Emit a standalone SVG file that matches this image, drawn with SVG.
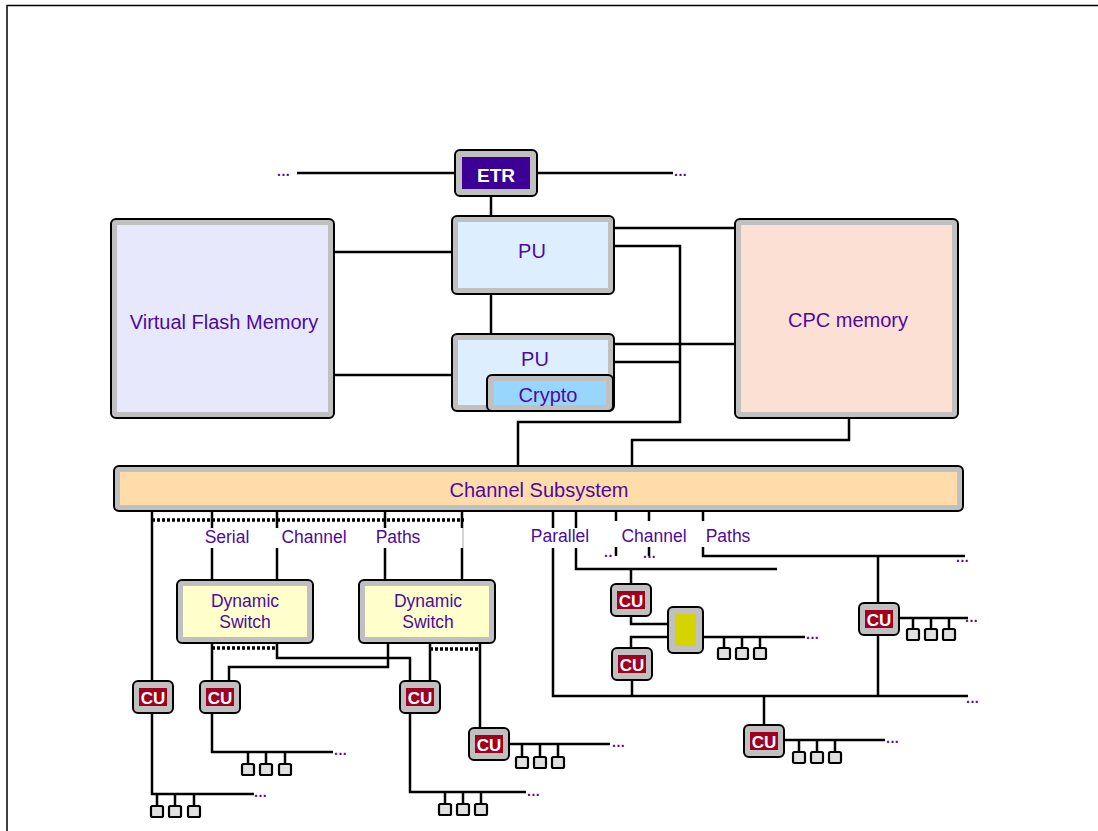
<svg xmlns="http://www.w3.org/2000/svg" width="1098" height="831" viewBox="0 0 1098 831">
<style>
.o{fill:#c0c0c0;stroke:#000;stroke-width:2}
.ln{fill:none;stroke:#000;stroke-width:2.5}
.dt{fill:none;stroke:#000;stroke-width:3.5;stroke-dasharray:3 2}
.t{font-family:"Liberation Sans",Arial,sans-serif;fill:#4d0aa0;text-anchor:middle}
.w{font-family:"Liberation Sans",Arial,sans-serif;font-weight:bold;fill:#fff;text-anchor:middle}
.d{font-family:"Liberation Sans",Arial,sans-serif;font-weight:bold;font-size:14px;fill:#4d0aa0;letter-spacing:0.5px}
.cur{fill:#a00020}
.term{fill:#e0e0e0;stroke:#000;stroke-width:2.2}
</style>
<defs>
<g id="cu">
<rect class="o" x="0" y="0" width="40" height="32" rx="5"/>
<rect class="cur" x="6" y="7" width="28" height="18"/>
<text class="w" x="20" y="22.5" font-size="17">CU</text>
</g>
<rect id="tb" class="term" x="-6" y="0" width="12" height="11" rx="1.5"/>
</defs>
<path d="M7,831 V5.5 H1098" fill="none" stroke="#000" stroke-width="1.5"/>

<g id="connectors">
<path class="ln" d="M297,173 H455 M537,173 H673 M491,196 V216 M491,294 V334 M334,252 H452 M331,375 H452 M614,228 H738 M614,246 H680 V422 H518 V466 M614,344 H738 M614,362 H680 M849,418 V440 H632 V466"/>
<path class="ln" d="M152,511 V681 M212,511 V528 M212,548 V580 M277,511 V528 M277,548 V580 M385,511 V528 M385,548 V580 M462,511 V528 M462,548 V580"/>
<path class="dt" d="M152,520 H464 M212,648 H277 M430,649 H480"/>
<path d="M463,528 V548" stroke="#aaa" stroke-width="1"/>
<path class="ln" d="M212,643 V681 M277,643 V658 H410 V681 M388,643 V667 H229 V681 M430,643 V681 M480,643 V728"/>
<path class="ln" d="M152,713 V794 H254 M157,794 V806 M175,794 V806 M194,794 V806"/>
<path class="ln" d="M212,713 V752 H333 M248,752 V764 M266,752 V764 M285,752 V764"/>
<path class="ln" d="M410,713 V792 H526 M445,792 V804 M463,792 V804 M481,792 V804"/>
<path class="ln" d="M509,744 H610 M522,744 V757 M540,744 V757 M558,744 V757"/>
<path class="ln" d="M553,511 V528 M553,548 V696 H968 M576,511 V528 M576,548 V569 H777 M616,511 V521 M616,547 V556 M649,511 V521 M649,547 V556 M703,511 V521 M703,547 V556 H965"/>
<path class="ln" d="M631,569 V584 M631,616 V624 H668 M668,637 H631 V648 M632,680 V696 M703,637 H805 M724,637 V648 M742,637 V648 M760,637 V648"/>
<path class="ln" d="M878,556 V603 M878,635 V696 M899,618 H968 M913,618 V629 M931,618 V629 M949,618 V629"/>
<path class="ln" d="M764,696 V725 M784,740 H885 M799,740 V752 M817,740 V752 M835,740 V752"/>
<text class="d" x="277" y="176">...</text>
<text class="d" x="674" y="176">...</text>
<text class="d" x="254" y="797">...</text>
<text class="d" x="334" y="755">...</text>
<text class="d" x="527" y="796">...</text>
<text class="d" x="612" y="747">...</text>
<text class="d" x="806" y="639">...</text>
<text class="d" x="886" y="743">...</text>
<text class="d" x="956" y="562">...</text>
<text class="d" x="965" y="622">...</text>
<text class="d" x="966" y="703">...</text>
<text class="d" x="604" y="557">..</text>
<text class="d" x="643" y="558">...</text>
<text class="t" x="227" y="543" font-size="17.5">Serial</text>
<text class="t" x="314" y="543" font-size="17.5">Channel</text>
<text class="t" x="398" y="543" font-size="17.5">Paths</text>
<text class="t" x="560" y="542" font-size="17.5">Parallel</text>
<text class="t" x="654" y="542" font-size="17.5">Channel</text>
<text class="t" x="728" y="542" font-size="17.5">Paths</text>
</g>

<g id="terminals">
<use href="#tb" x="157" y="806"/><use href="#tb" x="175" y="806"/><use href="#tb" x="194" y="806"/>
<use href="#tb" x="248" y="764"/><use href="#tb" x="266" y="764"/><use href="#tb" x="285" y="764"/>
<use href="#tb" x="445" y="804"/><use href="#tb" x="463" y="804"/><use href="#tb" x="481" y="804"/>
<use href="#tb" x="522" y="757"/><use href="#tb" x="540" y="757"/><use href="#tb" x="558" y="757"/>
<use href="#tb" x="724" y="648"/><use href="#tb" x="742" y="648"/><use href="#tb" x="760" y="648"/>
<use href="#tb" x="913" y="629"/><use href="#tb" x="931" y="629"/><use href="#tb" x="949" y="629"/>
<use href="#tb" x="799" y="752"/><use href="#tb" x="817" y="752"/><use href="#tb" x="835" y="752"/>
</g>

<g id="etr">
<rect class="o" x="455" y="150" width="82" height="46" rx="5"/>
<rect x="462" y="157" width="68" height="32" fill="#3c0096"/>
<text class="w" x="496" y="182" font-size="19">ETR</text>
</g>
<g id="vfm">
<rect class="o" x="111" y="219" width="223" height="199" rx="5"/>
<rect x="117" y="225" width="211" height="187" fill="#e8e8fc"/>
<text class="t" x="224" y="329" font-size="20">Virtual Flash Memory</text>
</g>
<g id="pu1">
<rect class="o" x="452" y="216" width="162" height="78" rx="5"/>
<rect x="458" y="222" width="150" height="66" fill="#ddeeff"/>
<text class="t" x="532" y="258" font-size="20">PU</text>
</g>
<g id="pu2">
<rect class="o" x="452" y="334" width="162" height="77" rx="5"/>
<rect x="458" y="340" width="150" height="65" fill="#ddeeff"/>
<text class="t" x="535" y="366" font-size="20">PU</text>
</g>
<g id="crypto">
<rect class="o" x="487" y="375" width="126" height="36" rx="5"/>
<rect x="494" y="381" width="112" height="24" fill="#99d6ff"/>
<text class="t" x="548" y="402" font-size="20">Crypto</text>
</g>
<g id="cpc">
<rect class="o" x="735" y="219" width="223" height="199" rx="5"/>
<rect x="741" y="225" width="211" height="187" fill="#fde0d4"/>
<text class="t" x="848" y="327" font-size="20">CPC memory</text>
</g>
<g id="css">
<rect class="o" x="114" y="466" width="849" height="45" rx="5"/>
<rect x="120" y="472" width="837" height="33" fill="#ffdcaa"/>
<text class="t" x="539" y="497" font-size="20">Channel Subsystem</text>
</g>
<g id="ds1">
<rect class="o" x="177" y="580" width="136" height="63" rx="5"/>
<rect x="183" y="586" width="124" height="51" fill="#ffffcc"/>
<text class="t" x="245" y="607" font-size="17.5">Dynamic</text>
<text class="t" x="245" y="628" font-size="17.5">Switch</text>
</g>
<g id="ds2">
<rect class="o" x="359" y="580" width="136" height="63" rx="5"/>
<rect x="365" y="586" width="124" height="51" fill="#ffffcc"/>
<text class="t" x="428" y="607" font-size="17.5">Dynamic</text>
<text class="t" x="428" y="628" font-size="17.5">Switch</text>
</g>
<g id="cu1"><use href="#cu" x="133" y="681"/></g>
<g id="cu2"><use href="#cu" x="200" y="681"/></g>
<g id="cu3"><use href="#cu" x="400" y="681"/></g>
<g id="cu4"><use href="#cu" x="469" y="728"/></g>
<g id="cu5"><use href="#cu" x="611" y="584"/></g>
<g id="cu6"><use href="#cu" x="612" y="648"/></g>
<g id="cu7"><use href="#cu" x="859" y="603"/></g>
<g id="cu8"><use href="#cu" x="744" y="725"/></g>
<g id="device">
<rect class="o" x="668" y="607" width="35" height="46" rx="5"/>
<rect x="675" y="614" width="21" height="32" fill="#d4d400"/>
</g>
</svg>
